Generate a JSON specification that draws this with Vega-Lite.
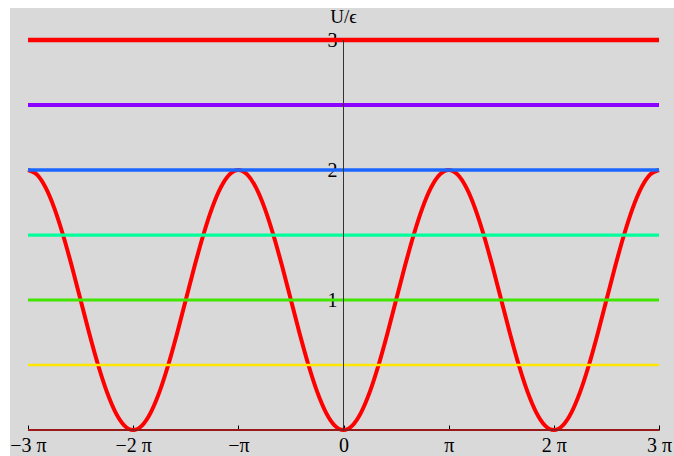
{
  "$schema": "https://vega.github.io/schema/vega-lite/v6.json",
  "autosize": "none",
  "width": 664,
  "height": 448,
  "padding": {"left": 10, "top": 8, "right": 0, "bottom": 0},
  "background": "white",
  "config": {
    "view": {"fill": "#d9d9d9", "stroke": null},
    "font": "Liberation Serif"
  },
  "datasets": {
    "curve": [
      {"x": -3, "u": 2}, {"x": -2.9167, "u": 1.966}, {"x": -2.8333, "u": 1.866}, {"x": -2.75, "u": 1.707},
      {"x": -2.6667, "u": 1.5}, {"x": -2.5833, "u": 1.259}, {"x": -2.5, "u": 1}, {"x": -2.4167, "u": 0.741},
      {"x": -2.3333, "u": 0.5}, {"x": -2.25, "u": 0.293}, {"x": -2.1667, "u": 0.134}, {"x": -2.0833, "u": 0.034},
      {"x": -2, "u": 0}, {"x": -1.9167, "u": 0.034}, {"x": -1.8333, "u": 0.134}, {"x": -1.75, "u": 0.293},
      {"x": -1.6667, "u": 0.5}, {"x": -1.5833, "u": 0.741}, {"x": -1.5, "u": 1}, {"x": -1.4167, "u": 1.259},
      {"x": -1.3333, "u": 1.5}, {"x": -1.25, "u": 1.707}, {"x": -1.1667, "u": 1.866}, {"x": -1.0833, "u": 1.966},
      {"x": -1, "u": 2}, {"x": -0.9167, "u": 1.966}, {"x": -0.8333, "u": 1.866}, {"x": -0.75, "u": 1.707},
      {"x": -0.6667, "u": 1.5}, {"x": -0.5833, "u": 1.259}, {"x": -0.5, "u": 1}, {"x": -0.4167, "u": 0.741},
      {"x": -0.3333, "u": 0.5}, {"x": -0.25, "u": 0.293}, {"x": -0.1667, "u": 0.134}, {"x": -0.0833, "u": 0.034},
      {"x": 0, "u": 0}, {"x": 0.0833, "u": 0.034}, {"x": 0.1667, "u": 0.134}, {"x": 0.25, "u": 0.293},
      {"x": 0.3333, "u": 0.5}, {"x": 0.4167, "u": 0.741}, {"x": 0.5, "u": 1}, {"x": 0.5833, "u": 1.259},
      {"x": 0.6667, "u": 1.5}, {"x": 0.75, "u": 1.707}, {"x": 0.8333, "u": 1.866}, {"x": 0.9167, "u": 1.966},
      {"x": 1, "u": 2}, {"x": 1.0833, "u": 1.966}, {"x": 1.1667, "u": 1.866}, {"x": 1.25, "u": 1.707},
      {"x": 1.3333, "u": 1.5}, {"x": 1.4167, "u": 1.259}, {"x": 1.5, "u": 1}, {"x": 1.5833, "u": 0.741},
      {"x": 1.6667, "u": 0.5}, {"x": 1.75, "u": 0.293}, {"x": 1.8333, "u": 0.134}, {"x": 1.9167, "u": 0.034},
      {"x": 2, "u": 0}, {"x": 2.0833, "u": 0.034}, {"x": 2.1667, "u": 0.134}, {"x": 2.25, "u": 0.293},
      {"x": 2.3333, "u": 0.5}, {"x": 2.4167, "u": 0.741}, {"x": 2.5, "u": 1}, {"x": 2.5833, "u": 1.259},
      {"x": 2.6667, "u": 1.5}, {"x": 2.75, "u": 1.707}, {"x": 2.8333, "u": 1.866}, {"x": 2.9167, "u": 1.966},
      {"x": 3, "u": 2}
    ],
    "levels": [
      {"level": 0, "x0": -3, "x1": 3},
      {"level": 0.5, "x0": -3, "x1": 3},
      {"level": 1, "x0": -3, "x1": 3},
      {"level": 1.5, "x0": -3, "x1": 3},
      {"level": 2, "x0": -3, "x1": 3},
      {"level": 2.5, "x0": -3, "x1": 3},
      {"level": 3, "x0": -3, "x1": 3}
    ],
    "axes": [
      {"x0": -3, "x1": 3, "y0": 0, "y1": 0},
      {"x0": 0, "x1": 0, "y0": 0, "y1": 3}
    ]
  },
  "layer": [
    {
      "data": {"name": "curve"},
      "mark": {"type": "line", "color": "#ff0000", "strokeWidth": 4, "interpolate": "monotone"},
      "encoding": {
        "x": {
          "field": "x", "type": "quantitative",
          "scale": {"domain": [-3.1712, 3.1424], "nice": false, "zero": false},
          "axis": {
            "orient": "bottom", "offset": -26, "domain": false, "grid": false,
            "values": [-3, -2, -1, 0, 1, 2, 3],
            "tickSize": -5, "tickColor": "#000000", "tickWidth": 1,
            "labelPadding": 10, "labelFontSize": 20, "labelColor": "#000000",
            "labelFont": "Liberation Serif",
            "labelExpr": "datum.value === 0 ? '0' : datum.value === 1 ? 'π' : datum.value === -1 ? '−π' : (datum.value < 0 ? '−' : '') + abs(datum.value) + ' π'",
            "title": null
          }
        },
        "y": {
          "field": "u", "type": "quantitative",
          "scale": {"domain": [-0.2, 3.2462], "nice": false, "zero": false},
          "axis": {
            "orient": "left", "offset": -333, "domain": false, "grid": false,
            "values": [1, 2, 3], "format": "d",
            "tickSize": -5, "tickColor": "#000000", "tickWidth": 1,
            "labelPadding": 11, "labelFontSize": 20, "labelColor": "#000000",
            "labelFont": "Liberation Serif",
            "title": "U/ϵ", "titleAngle": 0, "titleAlign": "center", "titleBaseline": "alphabetic",
            "titleX": 0, "titleY": 14, "titleFontSize": 19, "titleFontWeight": "normal",
            "titleFont": "Liberation Serif", "titleColor": "#000000"
          }
        }
      }
    },
    {
      "data": {"name": "levels"},
      "mark": {"type": "rule"},
      "encoding": {
        "x": {"field": "x0", "type": "quantitative"},
        "x2": {"field": "x1"},
        "y": {"field": "level", "type": "quantitative"},
        "color": {
          "field": "level", "type": "ordinal", "legend": null,
          "scale": {
            "domain": [0, 0.5, 1, 1.5, 2, 2.5, 3],
            "range": ["#ff0000", "#ffe600", "#40e600", "#00ff9a", "#1a66ff", "#8c00ff", "#ff0000"]
          }
        },
        "strokeWidth": {
          "field": "level", "type": "ordinal", "legend": null,
          "scale": {
            "domain": [0, 0.5, 1, 1.5, 2, 2.5, 3],
            "range": [2, 4.5, 4.5, 4.5, 4.5, 4.5, 2]
          }
        }
      }
    },
    {
      "data": {"name": "axes"},
      "mark": {"type": "rule", "color": "#333333", "strokeWidth": 1},
      "encoding": {
        "x": {"field": "x0", "type": "quantitative"},
        "x2": {"field": "x1"},
        "y": {"field": "y0", "type": "quantitative"},
        "y2": {"field": "y1"}
      }
    }
  ]
}
